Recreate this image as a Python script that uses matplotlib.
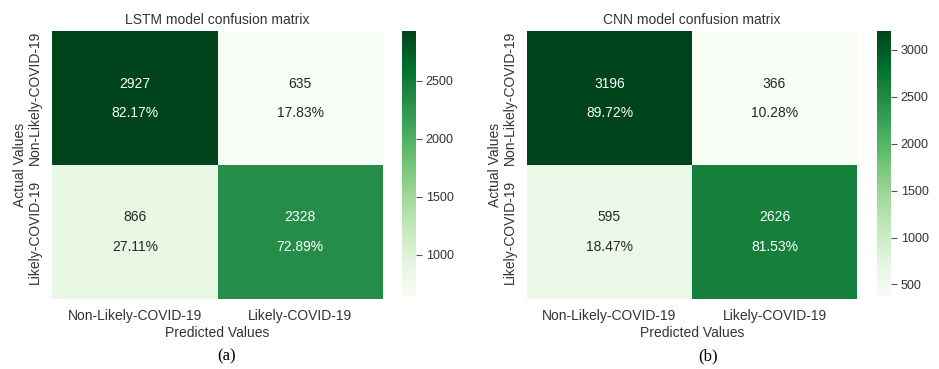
import numpy as np
import matplotlib.pyplot as plt
import seaborn as sns

# confusion matrices: rows = actual, cols = predicted
class_names = ['Non-Likely-COVID-19', 'Likely-COVID-19']
lstm_counts = np.array([[2927, 635],
                        [866, 2328]])
cnn_counts = np.array([[3196, 366],
                       [595, 2626]])
lstm_cbar_ticks = [1000, 1500, 2000, 2500]
cnn_cbar_ticks = [500, 1000, 1500, 2000, 2500, 3000]

plt.rcParams['font.family'] = ['Liberation Sans', 'DejaVu Sans']
text_color = '#333333'


def cell_labels(cm):
    pct = cm / cm.sum(axis=1, keepdims=True) * 100
    return np.array([[f"{c}\n\n{p:.2f}%" for c, p in zip(rc, rp)]
                     for rc, rp in zip(cm, pct)])


def draw_cm(fig, ax_rect, cbar_rect, cm, title, ticks, caption, cap_x):
    ax = fig.add_axes(ax_rect)
    cax = fig.add_axes(cbar_rect)
    sns.heatmap(cm, annot=cell_labels(cm), fmt='', cmap='Greens', ax=ax,
                cbar_ax=cax, annot_kws={'fontsize': 10, 'linespacing': 1.05},
                xticklabels=class_names, yticklabels=class_names)
    ax.set_title(title, fontsize=10, color=text_color, pad=5)
    ax.tick_params(length=0, labelsize=10, labelcolor=text_color, pad=7)
    ax.tick_params(axis='y', pad=7)
    plt.setp(ax.get_yticklabels(), rotation=90, va='center')
    ax.set_xlabel('Predicted Values', fontsize=10, color=text_color, labelpad=2)
    ax.set_ylabel('Actual Values', fontsize=10, color=text_color, labelpad=1)

    cax.set_yticks(ticks)
    cax.tick_params(length=4, width=0.8, color='#555555', labelsize=9,
                    labelcolor=text_color, pad=3)
    ax.collections[0].colorbar.outline.set_visible(False)

    fig.text(cap_x, 0.035, caption, ha='center', va='center',
             fontsize=12, family='Liberation Serif', color='black')


fig = plt.figure(figsize=(9.39, 3.69), dpi=100)
draw_cm(fig, [0.0554, 0.1897, 0.3525, 0.726], [0.428, 0.195, 0.0149, 0.72],
        lstm_counts, 'LSTM model confusion matrix', lstm_cbar_ticks, '(a)', 0.241)
draw_cm(fig, [0.5612, 0.1897, 0.3514, 0.726], [0.934, 0.195, 0.0149, 0.72],
        cnn_counts, 'CNN model confusion matrix', cnn_cbar_ticks, '(b)', 0.754)

fig.savefig('out.png', dpi=100)
